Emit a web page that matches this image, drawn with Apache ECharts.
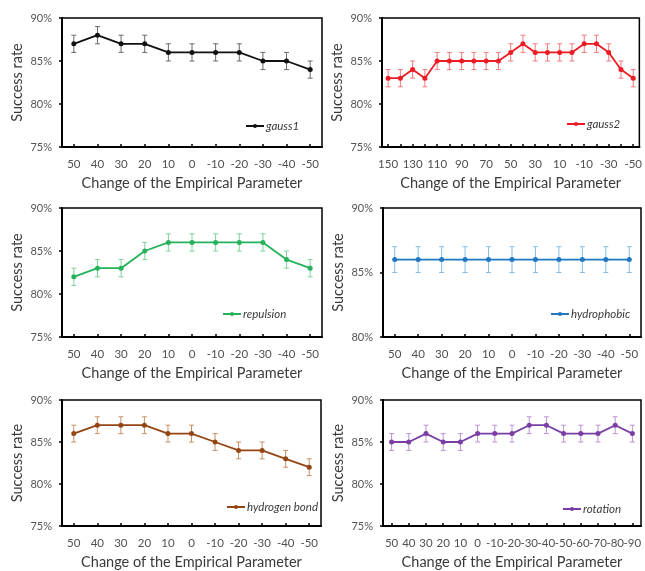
<!DOCTYPE html>
<html>
<head>
<meta charset="utf-8">
<script src="https://cdn.jsdelivr.net/npm/echarts@6/dist/echarts.min.js"></script>
<style>
  html, body { margin: 0; padding: 0; background: #ffffff; }
  #chart { width: 645px; height: 571px; }
</style>
</head>
<body>
<div id="chart"></div>
<script>
// Category labels (change of the empirical parameter)
const catStandard = ['50', '40', '30', '20', '10', '0', '-10', '-20', '-30', '-40', '-50'];
const catGauss2 = ['150', '140', '130', '120', '110', '100', '90', '80', '70', '60', '50',
                   '40', '30', '20', '10', '0', '-10', '-20', '-30', '-40', '-50'];
const catRotation = ['50', '40', '30', '20', '10', '0', '-10', '-20', '-30', '-40', '-50',
                     '-60', '-70', '-80', '-90'];

// Success rate (%) per term
const gauss1 = [87, 88, 87, 87, 86, 86, 86, 86, 85, 85, 84];
const gauss2 = [83, 83, 84, 83, 85, 85, 85, 85, 85, 85, 86, 87, 86, 86, 86, 86, 87, 87, 86, 84, 83];
const repulsion = [82, 83, 83, 85, 86, 86, 86, 86, 86, 84, 83];
const hydrophobic = [86, 86, 86, 86, 86, 86, 86, 86, 86, 86, 86];
const hydrogenBond = [86, 87, 87, 87, 86, 86, 85, 84, 84, 83, 82];
const rotation = [85, 85, 86, 85, 85, 86, 86, 86, 87, 87, 86, 86, 86, 87, 86];

// Error (± percentage points)
const gauss1Err = [1, 1, 1, 1, 1, 1, 1, 1, 1, 1, 1];
const gauss2Err = [1, 1, 1, 1, 1, 1, 1, 1, 1, 1, 1, 1, 1, 1, 1, 1, 1, 1, 1, 1, 1];
const repulsionErr = [1, 1, 1, 1, 1, 1, 1, 1, 1, 1, 1];
const hydrophobicErr = [1, 1, 1, 1, 1, 1, 1, 1, 1, 1, 1];
const hydrogenBondErr = [1, 1, 1, 1, 1, 1, 1, 1, 1, 1, 1];
const rotationErr = [1, 1, 1, 1, 1, 1, 1, 1, 1, 1, 1, 1, 1, 1, 1];

// Y-axis ranges
const yRangeDefault = [75, 90];
const yRangeHydrophobic = [80, 90];

const FONT = 'Lato, "Open Sans", sans-serif';

const panels = [
  { name: 'gauss1', cats: catStandard, values: gauss1, err: gauss1Err, y: yRangeDefault,
    color: '#111111', errColor: '#6a6a6a',
    grid: { left: 62, top: 18, width: 260, height: 129 }, legend: { left: 245, top: 120 }, labelInterval: 0 },
  { name: 'gauss2', cats: catGauss2, values: gauss2, err: gauss2Err, y: yRangeDefault,
    color: '#ec1c24', errColor: '#f27a7e',
    grid: { left: 382, top: 18, width: 259, height: 129 }, legend: { left: 566, top: 118 }, labelInterval: 1 },
  { name: 'repulsion', cats: catStandard, values: repulsion, err: repulsionErr, y: yRangeDefault,
    color: '#25b25a', errColor: '#7dd39c',
    grid: { left: 62, top: 208, width: 260, height: 129 }, legend: { left: 222, top: 308 }, labelInterval: 0 },
  { name: 'hydrophobic', cats: catStandard, values: hydrophobic, err: hydrophobicErr, y: yRangeHydrophobic,
    color: '#1f78c1', errColor: '#86bde6',
    grid: { left: 383, top: 208, width: 258, height: 129 }, legend: { left: 550, top: 308 }, labelInterval: 0 },
  { name: 'hydrogen bond', cats: catStandard, values: hydrogenBond, err: hydrogenBondErr, y: yRangeDefault,
    color: '#954513', errColor: '#c69068',
    grid: { left: 62, top: 400, width: 259, height: 130 }, legend: { left: 226, top: 501 }, labelInterval: 0 },
  { name: 'rotation', cats: catRotation, values: rotation, err: rotationErr, y: yRangeDefault,
    color: '#7a3ea5', errColor: '#b795d2',
    grid: { left: 383, top: 400, width: 258, height: 130 }, legend: { left: 562, top: 503 }, labelInterval: 0 }
];

function errorBarItem(params, api) {
  const x = api.value(0);
  const lo = api.coord([x, api.value(1)]);
  const hi = api.coord([x, api.value(2)]);
  const half = 2.5;
  const style = { stroke: api.visual('color'), lineWidth: 1 };
  return {
    type: 'group',
    children: [
      { type: 'line', shape: { x1: lo[0], y1: lo[1], x2: hi[0], y2: hi[1] }, style: style },
      { type: 'line', shape: { x1: lo[0] - half, y1: lo[1], x2: lo[0] + half, y2: lo[1] }, style: style },
      { type: 'line', shape: { x1: hi[0] - half, y1: hi[1], x2: hi[0] + half, y2: hi[1] }, style: style }
    ]
  };
}

const option = {
  backgroundColor: '#ffffff',
  animation: false,
  textStyle: { fontFamily: FONT },
  grid: [], xAxis: [], yAxis: [], legend: [], series: []
};

panels.forEach((p, i) => {
  option.grid.push(Object.assign({
    show: true, borderColor: '#000000', borderWidth: 1.5, backgroundColor: 'transparent'
  }, p.grid));

  option.xAxis.push({
    type: 'category', gridIndex: i, data: p.cats, boundaryGap: true,
    name: 'Change of the Empirical Parameter', nameLocation: 'middle', nameGap: 29,
    nameTextStyle: { fontFamily: FONT, fontSize: 14.5, color: '#3a3a3a' },
    axisLine: { lineStyle: { color: '#000000', width: 2 } },
    axisTick: { show: true, inside: true, length: 3, alignWithLabel: true, interval: 0,
                lineStyle: { color: '#000000', width: 1.5 } },
    axisLabel: { interval: p.labelInterval, margin: 11, fontFamily: FONT, fontSize: 11.5, color: '#505050' },
    splitLine: { show: false }
  });

  option.yAxis.push({
    type: 'value', gridIndex: i, min: p.y[0], max: p.y[1], interval: 5,
    name: 'Success rate', nameLocation: 'middle', nameGap: 37,
    nameTextStyle: { fontFamily: FONT, fontSize: 14.5, color: '#3a3a3a' },
    axisLine: { show: true, lineStyle: { color: '#000000', width: 2 } },
    axisTick: { show: true, inside: false, length: 3, lineStyle: { color: '#000000', width: 1.5 } },
    axisLabel: { formatter: '{value}%', margin: 10, fontFamily: FONT, fontSize: 11, color: '#555555' },
    splitLine: { show: false }
  });

  option.legend.push({
    data: [p.name], left: p.legend.left, top: p.legend.top, padding: 0,
    itemWidth: 18, itemHeight: 5, itemGap: 0,
    textStyle: { fontFamily: FONT, fontSize: 11.5, fontStyle: 'italic', color: '#3a3a3a', padding: [0, 0, 0, -3] }
  });

  option.series.push({
    type: 'custom', name: p.name + ' error', xAxisIndex: i, yAxisIndex: i,
    renderItem: errorBarItem, itemStyle: { color: p.errColor }, z: 1,
    encode: { x: 0, y: [1, 2] },
    data: p.values.map((v, k) => [k, v - p.err[k], v + p.err[k]])
  });

  option.series.push({
    type: 'line', name: p.name, xAxisIndex: i, yAxisIndex: i, data: p.values,
    symbol: 'circle', symbolSize: 5, z: 3,
    itemStyle: { color: p.color },
    lineStyle: { color: p.color, width: 1.8 }
  });
});

const chart = echarts.init(document.getElementById('chart'), null, { renderer: 'canvas' });
chart.setOption(option);
</script>
</body>
</html>
